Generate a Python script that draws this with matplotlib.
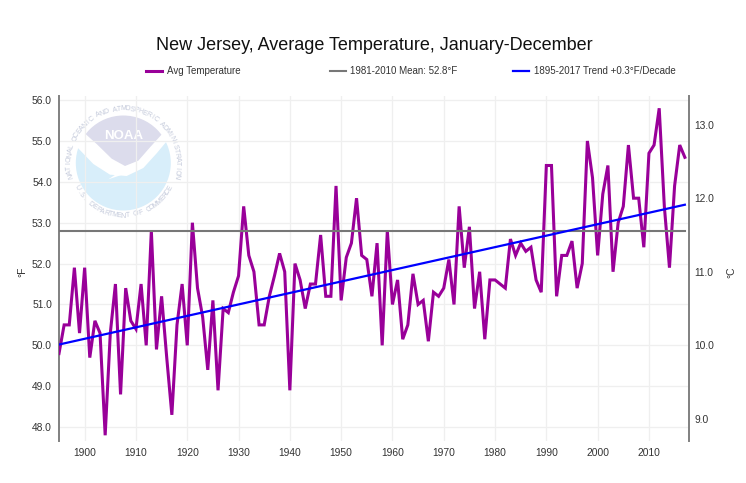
"""New Jersey average temperature, January-December, with trend and mean lines."""
import numpy as np
import matplotlib
matplotlib.use("Agg")
import matplotlib.pyplot as plt
from matplotlib.lines import Line2D
from matplotlib.patches import Circle, Polygon
from matplotlib.transforms import Affine2D

plt.rcParams["font.family"] = ["Liberation Sans", "DejaVu Sans"]

W, H = 746, 483

years = list(range(1895, 2018))
avg_temp = [
    49.8, 50.5, 50.5, 51.9, 50.3, 51.9, 49.7, 50.6, 50.3, 47.8,
    50.3, 51.5, 48.8, 51.4, 50.6, 50.4, 51.5, 50.0, 52.8, 49.9,
    51.2, 49.7, 48.3, 50.5, 51.5, 50.0, 53.0, 51.4, 50.7, 49.4,
    51.1, 48.9, 50.9, 50.8, 51.3, 51.7, 53.4, 52.2, 51.8, 50.5,
    50.5, 51.2, 51.7, 52.25, 51.8, 48.9, 52.0, 51.6, 50.9, 51.5,
    51.5, 52.7, 51.2, 51.2, 53.9, 51.1, 52.15, 52.5, 53.6, 52.2,
    52.1, 51.2, 52.5, 50.0, 52.8, 51.0, 51.6, 50.15, 50.5, 51.75,
    51.0, 51.1, 50.1, 51.3, 51.2, 51.4, 52.1, 51.0, 53.4, 51.9,
    52.9, 50.9, 51.8, 50.15, 51.6, 51.6, 51.5, 51.4, 52.6, 52.2,
    52.5, 52.3, 52.4, 51.6, 51.3, 54.4, 54.4, 51.2, 52.2, 52.2,
    52.55, 51.4, 52.0, 55.0, 54.1, 52.2, 53.7, 54.4, 51.8, 53.0,
    53.4, 54.9, 53.6, 53.6, 52.4, 54.7, 54.9, 55.8, 53.4, 51.9,
    53.9, 54.9, 54.6,
]
trend_years = [1895, 2017]
trend_vals = [50.02, 53.44]
mean_years = [1895, 2017]
mean_vals = [52.8, 52.8]

y_ticks = [48, 49, 50, 51, 52, 53, 54, 55, 56]
x_ticks = list(range(1900, 2011, 10))
c_ticks = [9, 10, 11, 12, 13]
legend_labels = ["Avg Temperature", "1981-2010 Mean: 52.8°F", "1895-2017 Trend +0.3°F/Decade"]
legend_colors = ["#990099", "#777777", "#0000ff"]
legend_widths = [2.2, 1.5, 1.6]

TEXT = "#333333"
SPINE = "#808080"


def draw_logo(fig):
    # watermark, in image pixels with y pointing down
    px = Affine2D().scale(1, -1).translate(0, H)
    cx, cy = 123.3, 163.0

    def z(pts):
        return [(60 + a / 3, 100 + b / 3) for a, b in pts]

    def add(patch):
        patch.set_transform(px)
        patch.set_zorder(-5)
        fig.add_artist(patch)
        return patch

    add(Circle((cx, cy), 47.5, fc="#d8eefa", ec="none"))
    white = z([(48, 138), (100, 192), (150, 224), (200, 228), (250, 204), (290, 160), (335, 106),
               (330, 30), (50, 30)])
    add(Polygon(white, closed=True, fc="white", ec="none"))
    lav = add(Polygon(z([(72, 98), (100, 50), (190, 30), (285, 50), (310, 98), (270, 142),
                         (235, 182), (195, 198), (155, 176), (110, 132)]),
                      closed=True, fc="#dcdcec", ec="none"))
    lav.set_clip_path(Circle((cx, cy), 47.5, transform=px))
    add(Polygon(z([(145, 238), (195, 205), (250, 203), (205, 218)]), closed=True, fc="white", ec="none"))

    fig.text(cx / W, 1 - 136 / H, "NOAA", color="white", fontsize=9.5, fontweight="bold",
             ha="center", va="center", zorder=-4)

    def ring(text, start, end, radius, bottom=False):
        for ch, a in zip(text, np.linspace(start, end, len(text))):
            rad = np.deg2rad(a)
            x = cx + radius * np.cos(rad)
            y = cy - radius * np.sin(rad)
            rot = a + 90 if bottom else a - 90
            fig.text(x / W, 1 - y / H, ch, color="#c4cadb", fontsize=5, rotation=rot,
                     ha="center", va="center", zorder=-4)

    ring("NATIONAL OCEANIC AND ATMOSPHERIC ADMINISTRATION", 194, -14, 54)
    ring("U.S. DEPARTMENT OF COMMERCE", 208, 332, 53, bottom=True)


fig = plt.figure(figsize=(W / 100, H / 100), dpi=100, facecolor="white")
ax = fig.add_axes([59 / W, 1 - 441 / H, (688.7 - 59) / W, (441 - 96) / H])
ax.patch.set_visible(False)

draw_logo(fig)

ax.plot(years, avg_temp, color=legend_colors[0], lw=legend_widths[0], solid_joinstyle="miter", zorder=3)
ax.plot(mean_years, mean_vals, color=legend_colors[1], lw=legend_widths[1], zorder=4)
ax.plot(trend_years, trend_vals, color=legend_colors[2], lw=legend_widths[2], zorder=5)

ax.set_xlim(1895, 2017.75)
ax.set_ylim(47.66, 56.1)
ax.set_xticks(x_ticks)
ax.set_yticks(y_ticks)
ax.set_yticklabels([f"{v:.1f}" for v in y_ticks])
ax.grid(True, color="#efefef", lw=0.9)
ax.set_axisbelow(True)
ax.tick_params(length=0, labelsize=7.4, labelcolor=TEXT)
ax.tick_params(axis="x", pad=5)
ax.tick_params(axis="y", pad=5)
for side in ["top", "right", "bottom"]:
    ax.spines[side].set_visible(False)
ax.spines["left"].set_color(SPINE)
ax.spines["left"].set_linewidth(1.4)

sec = ax.secondary_yaxis("right", functions=(lambda f: (f - 32) * 5 / 9, lambda c: c * 9 / 5 + 32))
sec.set_zorder(10)
sec.set_yticks(c_ticks)
sec.set_yticklabels([f"{v:.1f}" for v in c_ticks])
sec.tick_params(length=0, labelsize=7.4, labelcolor=TEXT, pad=4)
sec.spines["right"].set_color(SPINE)
sec.spines["right"].set_linewidth(1.4)

fig.text(22 / W, 1 - 272 / H, "°F", rotation=90, fontsize=7.4, color=TEXT, ha="center", va="center")
fig.text(731 / W, 1 - 272 / H, "°C", rotation=90, fontsize=7.4, color=TEXT, ha="center", va="center")

fig.text(374.5 / W, 1 - 45 / H, "New Jersey, Average Temperature, January-December",
         fontsize=13, color="#111111", ha="center", va="center")

for i, label in enumerate(legend_labels):
    x0 = 146 + 183.5 * i
    fig.add_artist(Line2D([x0 / W, (x0 + 16) / W], [1 - 71 / H, 1 - 71 / H],
                          color=legend_colors[i], lw=legend_widths[i]))
    fig.text((x0 + 21) / W, 1 - 71 / H, label, fontsize=7, color=TEXT, ha="left", va="center")

fig.savefig("out.png", dpi=100)
